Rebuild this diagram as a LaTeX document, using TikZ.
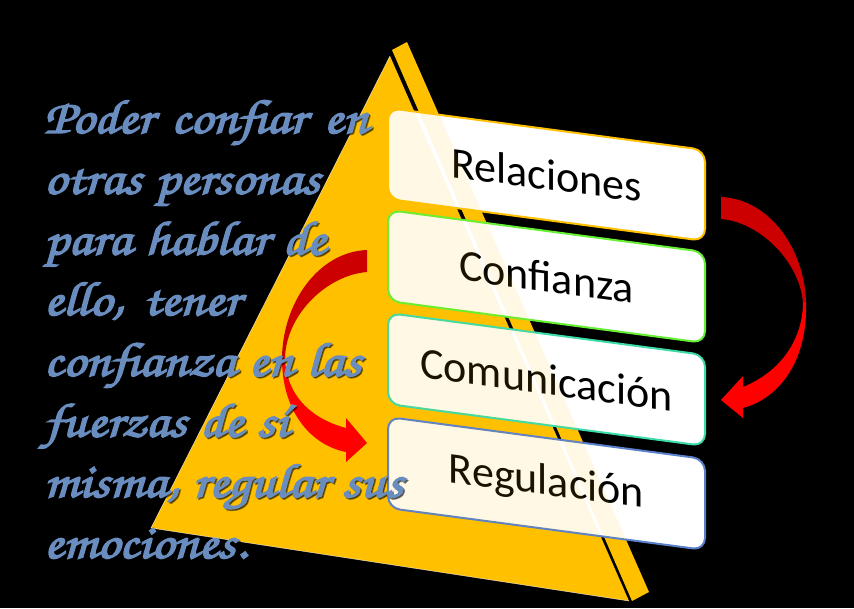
\documentclass[tikz,border=0pt]{standalone}
\usepackage{fontspec}
\setmainfont{Carlito}
\newfontfamily\chorusf[AutoFakeBold=3]{texgyrechorus-mediumitalic.otf}
\definecolor{pyr}{HTML}{FFC000}
\definecolor{txtblue}{RGB}{106,141,192}
\definecolor{arrdark}{HTML}{CC0000}
\definecolor{arrlight}{HTML}{FF0000}
\definecolor{bRel}{HTML}{FFC000}
\definecolor{bConf}{HTML}{66F033}
\definecolor{bCom}{HTML}{3DDBAA}
\definecolor{bReg}{HTML}{5A80CC}
\newcommand\pyrLeft{(390,56) -- (151,528) -- (629,601) -- cycle}
\newcommand\pyrRight{(392,50) -- (407,42) -- (649,592) -- (632,601) -- cycle}
\newcommand\sline[2]{\scalebox{1.15}[1]{\hbox to \dimexpr #1pt*100/115\relax{\spaceskip=0.25em plus 1fil minus 0.1em\relax #2\hskip 0pt minus 1fil}}}
\begin{document}
\begin{tikzpicture}[x=1pt,y=-1pt,
  boxnode/.style={shape=rectangle, rounded corners=12pt, fill=white, line width=2pt,
    minimum width=317pt, minimum height=91pt, inner sep=0pt, transform shape,
    font=\fontsize{44}{44}\selectfont, text=black},
  leftline/.style={anchor=base west, inner sep=0pt, text=txtblue,
    font=\chorusf\bfseries\fontsize{48}{48}\selectfont},
  leftshadow/.style={leftline, text=black, opacity=0.45},
]
\fill[black] (0,0) rectangle (854,608);
\useasboundingbox (0,0) rectangle (854,608);
% pyramid
\fill[pyr] \pyrLeft;
\fill[pyr] \pyrRight;
\draw[white, line width=0.5pt, opacity=0.7] (390,56) -- (151,528) -- (629,601);
% boxes
\foreach \yy/\nm/\lbl/\col in {108/rel/Relaciones/bRel, 210/conf/Confianza/bConf,
    313/com/Comunicación/bCom, 417/reg/Regulación/bReg}{
  \begin{scope}[shift={(388,\yy)}, yslant=-0.1325]
    \node[boxnode, draw=\col] (\nm) at (158.5,45.5) {\lbl};
    \begin{scope}
      \clip[rounded corners=12pt] (0,0) rectangle (317,91);
      \begin{scope}[reset cm]
        \fill[pyr, opacity=0.1] \pyrLeft;
        \fill[pyr, opacity=0.1] \pyrRight;
      \end{scope}
    \end{scope}
  \end{scope}
}
% right arrow
\fill[arrdark] (721,197) .. controls (770,199) and (805,250) .. (806,303)
  -- (803,303) .. controls (800,262) and (760,222) .. (721,219) -- cycle;
\fill[arrlight] (803,302) .. controls (803,340) and (780,372) .. (743,387)
  -- (743,376) -- (721,400) -- (743,418) -- (743,408)
  .. controls (780,398) and (808,360) .. (806,302) -- cycle;
% left arrow
\fill[arrdark] (367,250) .. controls (318,252) and (283,303) .. (282,357)
  -- (285,357) .. controls (287,313) and (328,275) .. (367,272) -- cycle;
\fill[arrlight] (285,356) .. controls (285,392) and (308,418) .. (346,428)
  -- (346,418) -- (367,443) -- (346,462) -- (346,452)
  .. controls (310,445) and (281,410) .. (282,356) -- cycle;
% left text
\foreach \i/\yy/\w/\txt in {1/133/324/Poder confiar en, 2/193.7/268/otras personas,
    3/254.4/281/para hablar de, 4/315/196/{ello, tener}, 5/375.8/314/confianza en las,
    6/436.5/241/fuerzas de sí, 7/497/356/{misma, regular sus}, 8/558/188/emociones.}{
  \node[leftshadow] (s\i) at (45.5,\yy+1.5) {\sline{\w}{\txt}};
  \node[leftline] (t\i) at (44,\yy) {\sline{\w}{\txt}};
}
\end{tikzpicture}
\end{document}
